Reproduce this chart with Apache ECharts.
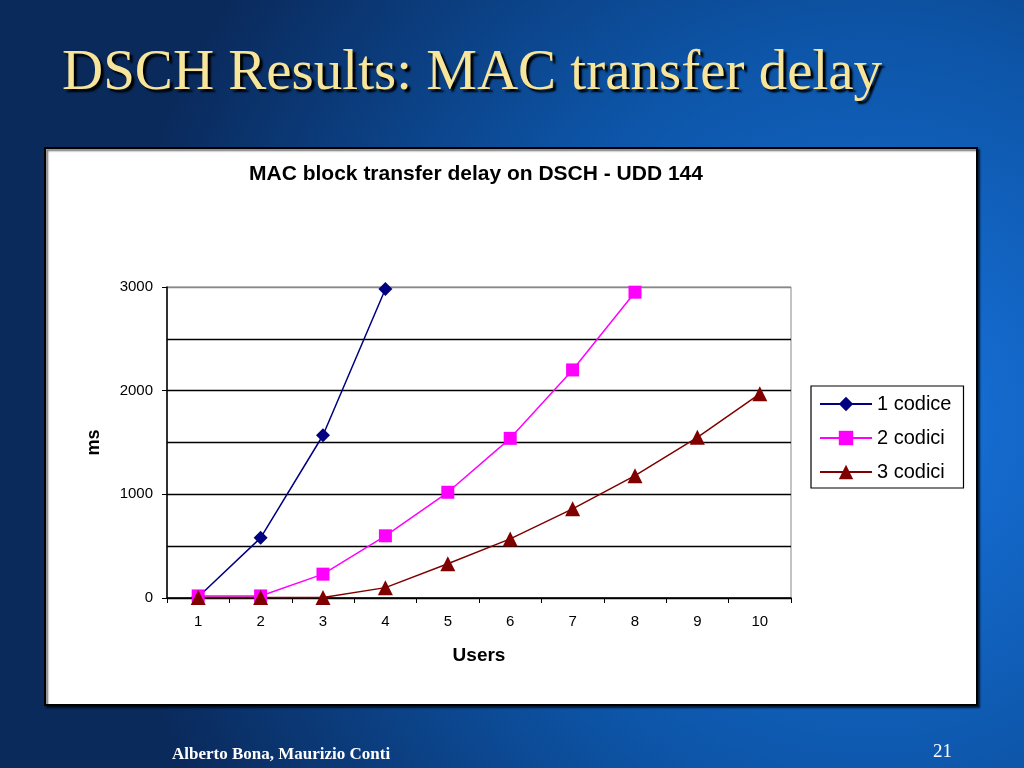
<!DOCTYPE html>
<html><head><meta charset="utf-8">
<script src="https://cdn.jsdelivr.net/npm/echarts@6/dist/echarts.min.js"></script>
<style>html,body{margin:0;padding:0;background:#0a2a5c}#c{width:1024px;height:768px}</style>
</head><body><div id="c"></div>
<script>
const users = ['1','2','3','4','5','6','7','8','9','10'];
const yTicks = [0, 1000, 2000, 3000];
const s1 = [10, 580, 1570, 2980, 4500, null, null, null, null, null];
const s2 = [20, 20, 230, 600, 1020, 1540, 2200, 2950, 3750, null];
const s3 = [5, 5, 5, 100, 330, 570, 860, 1180, 1550, 1970];
const names = ['1 codice', '2 codici', '3 codici'];

const chart = echarts.init(document.getElementById('c'), null, {renderer: 'canvas'});
const sans = 'Liberation Sans, Arial, sans-serif';
const serif = 'Liberation Serif, Times New Roman, serif';
chart.setOption({
  backgroundColor: {
    type: 'radial', x: 0.85, y: 0.55, r: 1.0,
    colorStops: [{offset: 0, color: '#1874de'}, {offset: 0.5, color: '#0d55a8'}, {offset: 1, color: '#0a2a5c'}]
  },
  graphic: [
    {type: 'rect', shape: {x: 45, y: 148, width: 932, height: 557}, style: {fill: '#fff', stroke: '#000', lineWidth: 2, shadowColor: 'rgba(0,0,0,0.6)', shadowOffsetX: 2, shadowOffsetY: 2, shadowBlur: 2}, z: -10},
    {type: 'text', x: 62, y: 74, style: {text: 'DSCH Results: MAC transfer delay', font: '57px ' + serif, fill: '#f6e59a', verticalAlign: 'middle', textShadowColor: '#000', textShadowOffsetX: 3, textShadowOffsetY: 3, textShadowBlur: 2}},
    {type: 'text', x: 172, y: 755, style: {text: 'Alberto Bona, Maurizio Conti', font: 'bold 17px ' + serif, fill: '#ffffff', verticalAlign: 'middle'}},
    {type: 'text', x: 933, y: 752, style: {text: '21', font: '19px ' + serif, fill: '#ffffff', verticalAlign: 'middle'}}
  ],
  title: {
    text: 'MAC block transfer delay on DSCH - UDD 144',
    left: 471, top: 159, textAlign: 'center',
    textStyle: {fontFamily: sans, fontSize: 21, fontWeight: 'bold', color: '#000'}
  },
  legend: {
    data: names, orient: 'vertical', left: 811, top: 386,
    padding: [8, 12, 6, 8], itemGap: 14, itemWidth: 52, itemHeight: 18,
    borderColor: '#000', borderWidth: 1.2, backgroundColor: '#fff',
    textStyle: {fontFamily: sans, fontSize: 20, color: '#000', lineHeight: 20}
  },
  grid: {left: 167, right: 233, top: 287, bottom: 170, show: true, borderColor: '#888', borderWidth: 1},
  xAxis: {
    type: 'category', data: users, boundaryGap: true,
    name: 'Users', nameLocation: 'middle', nameGap: 48,
    nameTextStyle: {fontFamily: sans, fontSize: 19, fontWeight: 'bold', color: '#000'},
    axisLine: {lineStyle: {color: '#000', width: 1.5}},
    axisTick: {show: true, inside: false, length: 5, alignWithLabel: false, lineStyle: {color: '#000'}},
    axisLabel: {fontFamily: sans, fontSize: 15, color: '#000', margin: 16},
    splitLine: {show: false}
  },
  yAxis: {
    type: 'value', min: yTicks[0], max: yTicks[yTicks.length - 1], interval: 1000,
    name: 'ms', nameLocation: 'middle', nameGap: 64, nameRotate: 90,
    nameTextStyle: {fontFamily: sans, fontSize: 18, fontWeight: 'bold', color: '#000'},
    axisLine: {show: true, lineStyle: {color: '#000', width: 1.5}},
    axisTick: {show: true, length: 5, lineStyle: {color: '#000'}},
    axisLabel: {fontFamily: sans, fontSize: 15, color: '#000', margin: 14, formatter: v => String(v)},
    splitLine: {show: true, lineStyle: {color: ['#000', '#000', '#000', '#888'], width: 1.3}},
    minorTick: {show: false, splitNumber: 2},
    minorSplitLine: {show: true, lineStyle: {color: '#000', width: 1.3}}
  },
  series: [
    {name: names[0], type: 'line', data: s1, symbol: 'diamond', symbolSize: 14, clip: true,
     itemStyle: {color: '#000080'}, lineStyle: {color: '#000080', width: 1.5}},
    {name: names[1], type: 'line', data: s2, symbol: 'rect', symbolSize: 13, clip: true,
     itemStyle: {color: '#ff00ff'}, lineStyle: {color: '#ff00ff', width: 1.5}},
    {name: names[2], type: 'line', data: s3, symbol: 'triangle', symbolSize: 15, clip: true,
     itemStyle: {color: '#800000'}, lineStyle: {color: '#800000', width: 1.5}}
  ],
  animation: false
});
</script></body></html>
